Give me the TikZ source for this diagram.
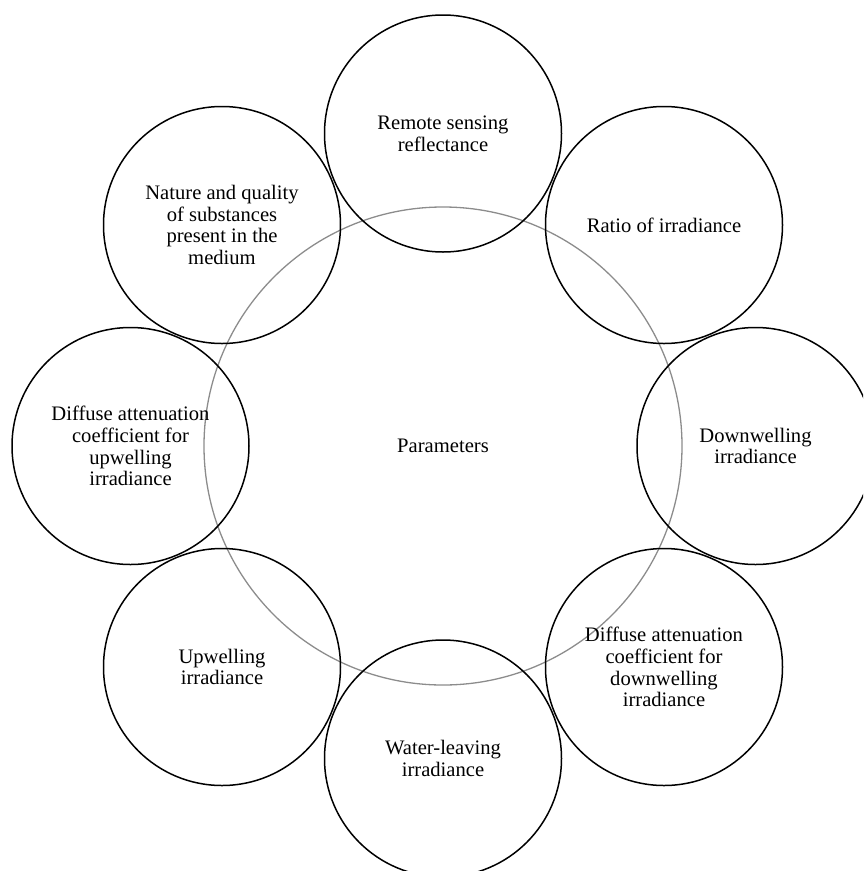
\documentclass[tikz,border=0pt]{standalone}
\usepackage{fontspec}
\setmainfont{Liberation Serif}
\begin{document}
\begin{tikzpicture}[x=1pt,y=-1pt,
  outer/.style={circle,draw=black,line width=1.5pt,minimum size=237pt,inner sep=0pt,align=center,
    font=\fontsize{20.6}{21.7}\selectfont},
  hub/.style={circle,draw=black!45,line width=1.3pt,minimum size=478pt,inner sep=0pt,align=center,
    font=\fontsize{20.6}{21.7}\selectfont}]
\useasboundingbox (0,0) rectangle (863,871);
\clip (0,0) rectangle (863,871);
\node[hub] (c) at (443,446) {Parameters};
\node[outer] (n1) at (443,133.5) {Remote sensing\\reflectance};
\node[outer] (n2) at (664,225) {Ratio of irradiance};
\node[outer] (n3) at (755.5,446) {Downwelling\\irradiance};
\node[outer] (n4) at (664,667) {Diffuse attenuation\\coefficient for\\downwelling\\irradiance};
\node[outer] (n5) at (443,758.5) {Water-leaving\\irradiance};
\node[outer] (n6) at (222,667) {Upwelling\\irradiance};
\node[outer] (n7) at (130.5,446) {Diffuse attenuation\\coefficient for\\upwelling\\irradiance};
\node[outer] (n8) at (222,225) {Nature and quality\\of substances\\present in the\\medium};
\end{tikzpicture}
\end{document}
